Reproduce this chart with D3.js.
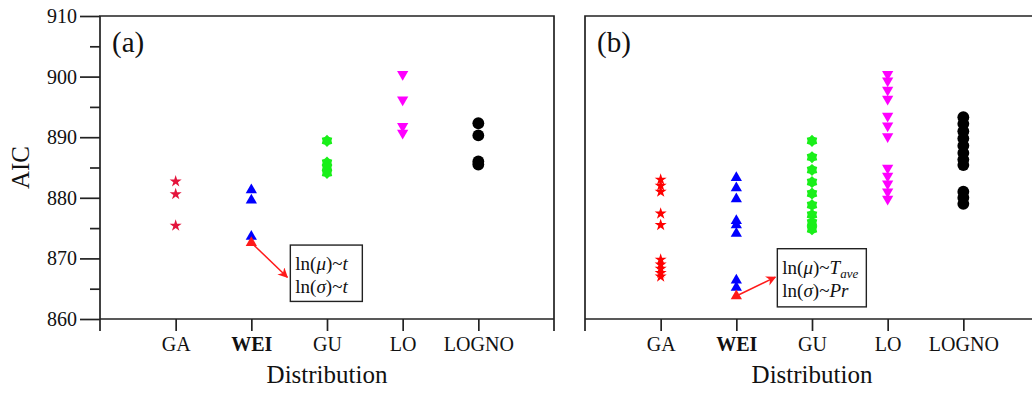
<!DOCTYPE html>
<html>
<head>
<meta charset="utf-8">
<script src="https://cdn.jsdelivr.net/npm/d3@7"></script>
<style>
  body { margin: 0; background: #fff; }
  text { font-family: 'Liberation Serif', 'Times New Roman', Times, serif; fill: #111; }
</style>
</head>
<body>
<div id="container"></div>
<script>
const categories = ['GA', 'WEI', 'GU', 'LO', 'LOGNO'];
const yTicks = [860, 870, 880, 890, 900, 910];
const yMinorTicks = [865, 875, 885, 895, 905];

// panel (a): AIC values per distribution
const gaA = [882.7, 880.6, 875.4];
const weiA = [881.3, 879.6, 873.6];
const guA = [889.4, 885.8, 885.0, 884.1];
const loA = [900.4, 896.2, 891.8, 890.7];
const lognoA = [892.3, 890.3, 886.0, 885.5];
const bestA = [872.6];

// panel (b)
const gaB = [883.0, 882.0, 881.0, 877.4, 875.5, 869.8, 869.0, 868.3, 867.6, 867.0];
const weiB = [883.3, 881.6, 879.8, 876.2, 875.5, 874.1, 866.4, 865.2];
const guB = [889.4, 886.7, 884.6, 882.6, 880.7, 878.8, 877.2, 875.9, 874.8];
const loB = [900.4, 899.3, 897.8, 896.3, 893.5, 891.9, 890.1, 884.9, 883.6, 882.3, 881.0, 879.8];
const lognoB = [893.3, 892.2, 891.0, 889.8, 888.6, 887.4, 886.3, 885.4, 881.0, 880.0, 879.0];
const bestB = [863.8];

const W = 1032, H = 394;
const plotTop = 16, plotBottom = 319;
const serif = "'Liberation Serif', 'Times New Roman', Times, serif";

const svg = d3.select('#container')
    .append('svg')
    .attr('width', W)
    .attr('height', H)
    .attr('viewBox', `0 0 ${W} ${H}`);

svg.append('defs').append('marker')
    .attr('id', 'arrow')
    .attr('viewBox', '0 0 10 10')
    .attr('refX', 9)
    .attr('refY', 5)
    .attr('markerWidth', 10)
    .attr('markerHeight', 10)
    .attr('markerUnits', 'userSpaceOnUse')
    .attr('orient', 'auto')
    .append('path')
    .attr('d', 'M0,0 L10,5 L0,10 L3,5 Z')
    .attr('fill', '#ff1a1a');

const y = d3.scaleLinear().domain([860, 910]).range([plotBottom, plotTop]);

// six pointed star for GU
const hexStar = {
    draw(ctx, size) {
        const ro = Math.sqrt(size / 2.6), ri = ro * 0.74;
        for (let i = 0; i < 12; i++) {
            const r = i % 2 ? ri : ro;
            const a = Math.PI / 6 * i - Math.PI / 2;
            if (i === 0) ctx.moveTo(r * Math.cos(a), r * Math.sin(a));
            else ctx.lineTo(r * Math.cos(a), r * Math.sin(a));
        }
        ctx.closePath();
    }
};

const drawPanel = (opts) => {
    const g = svg.append('g');
    const x = d3.scalePoint().domain(categories).range([opts.left, opts.right]).padding(1);

    // frame
    const frame = g.append('g')
        .attr('stroke', '#222')
        .attr('stroke-width', 1.7)
        .attr('fill', 'none');
    frame.append('path')
        .attr('d', `M${opts.left},${plotBottom + 12} V${plotTop} H${opts.right} V${plotBottom + 12}`);
    frame.append('line')
        .attr('x1', opts.left).attr('x2', opts.right)
        .attr('y1', plotBottom).attr('y2', plotBottom);

    // x axis
    const xAxis = g.append('g')
        .attr('transform', `translate(0,${plotBottom})`)
        .call(d3.axisBottom(x).tickSize(12).tickPadding(6).tickSizeOuter(0));
    xAxis.select('.domain').remove();
    xAxis.selectAll('line').attr('stroke', '#222').attr('stroke-width', 1.7);
    xAxis.selectAll('text')
        .style('font-family', serif)
        .attr('font-size', 20)
        .attr('fill', '#111')
        .attr('font-weight', d => d === 'WEI' ? 'bold' : null);

    g.append('text')
        .attr('x', x('GU'))
        .attr('y', 383)
        .attr('text-anchor', 'middle')
        .attr('font-size', 25)
        .text('Distribution');

    if (opts.yAxis) {
        const yAxis = g.append('g')
            .attr('transform', `translate(${opts.left},0)`)
            .call(d3.axisLeft(y).tickValues(yTicks).tickSize(20).tickPadding(3).tickSizeOuter(0));
        yAxis.select('.domain').remove();
        yAxis.selectAll('line').attr('stroke', '#222').attr('stroke-width', 1.7);
        yAxis.selectAll('text')
            .style('font-family', serif)
            .attr('font-size', 20)
            .attr('fill', '#111');
        const yMinor = g.append('g')
            .attr('transform', `translate(${opts.left},0)`)
            .call(d3.axisLeft(y).tickValues(yMinorTicks).tickSize(10).tickFormat(''));
        yMinor.select('.domain').remove();
        yMinor.selectAll('line').attr('stroke', '#222').attr('stroke-width', 1.7);

        g.append('text')
            .attr('transform', `translate(29,${(plotTop + plotBottom) / 2}) rotate(-90)`)
            .attr('text-anchor', 'middle')
            .attr('font-size', 25)
            .text('AIC');
    }

    g.append('text')
        .attr('x', opts.left + 12)
        .attr('y', 52)
        .attr('font-size', 29)
        .text(opts.label);

    // points
    opts.series.forEach(s => {
        g.append('g').selectAll('path')
            .data(s.values).enter()
            .append('path')
            .attr('transform', d => `translate(${x(s.cat)},${y(d)})${s.rotate ? ' rotate(180)' : ''}`)
            .attr('d', d3.symbol().type(s.shape).size(s.size))
            .attr('fill', s.color);
    });

    // annotation
    const xw = x('WEI');
    const a = opts.note;
    g.append('line')
        .attr('x1', xw).attr('y1', y(opts.best[0]))
        .attr('x2', xw + a.arrowDx).attr('y2', y(a.arrowY))
        .attr('stroke', '#ff1a1a')
        .attr('stroke-width', 1.5)
        .attr('marker-end', 'url(#arrow)');
    g.append('rect')
        .attr('x', xw + a.boxDx).attr('y', y(a.boxTop))
        .attr('width', a.boxW).attr('height', y(a.boxBottom) - y(a.boxTop))
        .attr('fill', '#fff')
        .attr('stroke', '#222')
        .attr('stroke-width', 1.4);
    a.lines.forEach((parts, i) => {
        const t = g.append('text')
            .attr('x', xw + a.boxDx + 5)
            .attr('y', y(a.boxTop) + 25 + i * 23)
            .attr('font-size', 19);
        parts.forEach(p => {
            const ts = t.append('tspan').text(p.t);
            if (p.i) ts.attr('font-style', 'italic');
            if (p.sub) ts.attr('font-size', 13).attr('dy', 4);
        });
    });
};

drawPanel({
    left: 100, right: 554, yAxis: true, label: '(a)',
    best: bestA,
    series: [
        { cat: 'GA', values: gaA, shape: d3.symbolStar, size: 45, color: '#e4143c' },
        { cat: 'WEI', values: weiA, shape: d3.symbolTriangle, size: 55, color: '#0000ff' },
        { cat: 'WEI', values: bestA, shape: d3.symbolTriangle, size: 55, color: '#ff1a1a' },
        { cat: 'GU', values: guA, shape: hexStar, size: 95, color: '#19ef19' },
        { cat: 'LO', values: loA, shape: d3.symbolTriangle, size: 55, color: '#ff00ff', rotate: true },
        { cat: 'LOGNO', values: lognoA, shape: d3.symbolCircle, size: 110, color: '#000' }
    ],
    note: {
        arrowDx: 36, arrowY: 866.9,
        boxDx: 39, boxW: 72, boxTop: 872.2, boxBottom: 862.9,
        lines: [
            [{ t: 'ln(' }, { t: 'μ', i: true }, { t: ')~' }, { t: 't', i: true }],
            [{ t: 'ln(' }, { t: 'σ', i: true }, { t: ')~' }, { t: 't', i: true }]
        ]
    }
});

drawPanel({
    left: 585, right: 1039, yAxis: false, label: '(b)',
    best: bestB,
    series: [
        { cat: 'GA', values: gaB, shape: d3.symbolStar, size: 45, color: '#ff0000' },
        { cat: 'WEI', values: weiB, shape: d3.symbolTriangle, size: 55, color: '#0000ff' },
        { cat: 'WEI', values: bestB, shape: d3.symbolTriangle, size: 55, color: '#ff1a1a' },
        { cat: 'GU', values: guB, shape: hexStar, size: 95, color: '#19ef19' },
        { cat: 'LO', values: loB, shape: d3.symbolTriangle, size: 55, color: '#ff00ff', rotate: true },
        { cat: 'LOGNO', values: lognoB, shape: d3.symbolCircle, size: 110, color: '#000' }
    ],
    note: {
        arrowDx: 39, arrowY: 866.9,
        boxDx: 41, boxW: 89, boxTop: 871.6, boxBottom: 862.0,
        lines: [
            [{ t: 'ln(' }, { t: 'μ', i: true }, { t: ')~' }, { t: 'T', i: true }, { t: 'ave', i: true, sub: true }],
            [{ t: 'ln(' }, { t: 'σ', i: true }, { t: ')~' }, { t: 'Pr', i: true }]
        ]
    }
});
</script>
</body>
</html>
